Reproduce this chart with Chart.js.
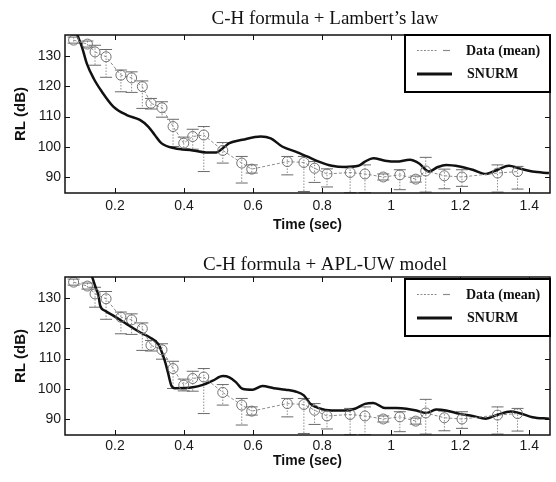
<!DOCTYPE html>
<html>
<head>
<meta charset="utf-8">
<script src="https://cdn.jsdelivr.net/npm/chart.js@4.4.0/dist/chart.umd.min.js"></script>
<style>
  body { margin: 0; background: #fff; }
  .panel { position: absolute; left: 0; width: 556px; height: 241px; }
</style>
</head>
<body>
<div class="panel" style="top:0"><canvas id="lambert" width="556" height="241"></canvas></div>
<div class="panel" style="top:241px"><canvas id="apluw" width="556" height="241"></canvas></div>
<script>
// axis ticks
const xTicks = [0.2, 0.4, 0.6, 0.8, 1, 1.2, 1.4];
const yTicks = [90, 100, 110, 120, 130];

// measured data (mean with error bars), same in both panels
const dataTime = [0.080, 0.120, 0.142, 0.174, 0.217, 0.248, 0.279, 0.304, 0.336, 0.368,
  0.399, 0.425, 0.457, 0.512, 0.567, 0.596, 0.699, 0.747, 0.778, 0.814,
  0.881, 0.924, 0.977, 1.025, 1.071, 1.100, 1.154, 1.205, 1.308, 1.366];
const dataMean = [135.3, 134.0, 131.4, 129.8, 123.7, 122.8, 119.9, 114.4, 112.9, 106.7,
  101.2, 103.4, 103.9, 98.8, 94.6, 92.6, 95.1, 94.8, 92.9, 91.0,
  91.5, 91.0, 90.0, 90.7, 89.3, 92.0, 90.4, 90.0, 91.3, 91.8];
const dataUpper = [136.3, 135.0, 133.6, 132.2, 125.4, 124.8, 121.8, 116.0, 114.9, 109.1,
  103.2, 105.8, 106.7, 101.4, 96.8, 94.0, 96.8, 96.8, 95.1, 92.7,
  93.5, 94.0, 91.0, 92.4, 90.3, 96.5, 92.6, 92.4, 94.0, 93.5];
const dataLower = [134.3, 133.0, 127.0, 123.0, 118.2, 118.0, 112.7, 112.5, 109.8, 100.1,
  99.3, 99.2, 91.8, 94.6, 88.0, 91.3, 90.7, 85.2, 88.2, 86.7,
  84.8, 84.8, 89.0, 85.8, 88.3, 85.0, 86.1, 86.9, 85.0, 86.0];

// SNURM, C-H formula + Lambert's law
const lambertTime = [0.085, 0.091, 0.104, 0.118, 0.138, 0.162, 0.195, 0.234, 0.272, 0.296,
  0.315, 0.334, 0.373, 0.425, 0.464, 0.493, 0.512, 0.531, 0.569, 0.622,
  0.651, 0.684, 0.723, 0.756, 0.790, 0.828, 0.867, 0.905, 0.924, 0.948,
  0.982, 1.015, 1.054, 1.082, 1.109, 1.135, 1.159, 1.198, 1.236, 1.274,
  1.308, 1.341, 1.370, 1.409, 1.457];
const lambertRL = [139.0, 136.9, 133.1, 127.6, 122.6, 118.2, 113.3, 110.5, 108.9, 106.7,
  103.9, 101.2, 99.5, 98.8, 98.1, 98.1, 99.5, 101.2, 102.3, 103.4,
  102.8, 100.1, 98.4, 96.8, 95.1, 93.7, 93.3, 93.7, 95.1, 96.2,
  95.4, 95.1, 95.7, 94.4, 91.8, 93.3, 94.0, 93.5, 92.4, 91.0,
  92.4, 93.7, 92.9, 91.8, 91.3];

// SNURM, C-H formula + APL-UW model
const apluwTime = [0.125, 0.133, 0.142, 0.152, 0.157, 0.171, 0.195, 0.234, 0.272, 0.301,
  0.325, 0.334, 0.344, 0.353, 0.363, 0.373, 0.425, 0.454, 0.483, 0.512,
  0.531, 0.550, 0.569, 0.598, 0.627, 0.660, 0.694, 0.723, 0.747, 0.766,
  0.790, 0.828, 0.867, 0.895, 0.924, 0.948, 0.982, 1.015, 1.044, 1.073,
  1.101, 1.130, 1.159, 1.198, 1.236, 1.274, 1.308, 1.346, 1.370, 1.409, 1.457];
const apluwRL = [139.0, 137.2, 134.1, 130.8, 127.5, 125.8, 124.2, 121.4, 118.7, 117.0,
  114.8, 112.6, 109.3, 105.5, 101.1, 100.2, 100.5, 101.3, 102.7, 104.2,
  103.8, 102.2, 100.0, 99.7, 100.9, 100.2, 99.7, 99.1, 97.8, 95.0,
  93.6, 92.8, 92.8, 93.4, 95.0, 95.3, 93.6, 93.6, 93.4, 92.8,
  92.0, 93.1, 92.8, 91.7, 91.0, 90.1, 91.4, 92.5, 92.0, 90.6, 90.1];

const sansFont = '"Liberation Sans", Arial, sans-serif';
const serifFont = '"Liberation Serif", "Times New Roman", serif';

function toPoints(xs, ys) {
  return xs.map((x, i) => ({ x: x, y: ys[i] }));
}

/* error bars from the upper/lower arrays */
const errorBars = {
  id: 'errorBars',
  beforeDatasetsDraw(chart) {
    const { ctx, scales: { x, y } } = chart;
    ctx.save();
    ctx.lineWidth = 1;
    dataTime.forEach((t, i) => {
      const px = x.getPixelForValue(t);
      const top = y.getPixelForValue(Math.min(dataUpper[i], 137));
      const bot = y.getPixelForValue(dataLower[i]);
      ctx.strokeStyle = '#8c8c8c';
      ctx.setLineDash([1.5, 1.5]);
      ctx.beginPath();
      ctx.moveTo(px, top);
      ctx.lineTo(px, bot);
      ctx.stroke();
      ctx.setLineDash([]);
      ctx.strokeStyle = '#6a6a6a';
      ctx.beginPath();
      ctx.moveTo(px - 6, top);
      ctx.lineTo(px + 6, top);
      ctx.moveTo(px - 6, bot);
      ctx.lineTo(px + 6, bot);
      ctx.stroke();
    });
    ctx.restore();
  }
};

/* box frame, inward ticks, legend box and heading */
const frame = {
  id: 'frame',
  afterDraw(chart, args, opts) {
    const { ctx, chartArea: a, scales: { x, y } } = chart;
    ctx.save();
    ctx.strokeStyle = '#111';
    ctx.lineWidth = 1;
    ctx.beginPath();
    xTicks.forEach(v => {
      const px = Math.round(x.getPixelForValue(v)) + 0.5;
      ctx.moveTo(px, a.bottom);
      ctx.lineTo(px, a.bottom - 5);
      ctx.moveTo(px, a.top);
      ctx.lineTo(px, a.top + 5);
    });
    yTicks.forEach(v => {
      const py = Math.round(y.getPixelForValue(v)) + 0.5;
      ctx.moveTo(a.left, py);
      ctx.lineTo(a.left + 5, py);
      ctx.moveTo(a.right, py);
      ctx.lineTo(a.right - 5, py);
    });
    ctx.stroke();
    ctx.lineWidth = 1.5;
    ctx.strokeRect(a.left, a.top, a.right - a.left, a.bottom - a.top);

    // legend
    const bx = a.right - 145, by = a.top + opts.legendDy;
    ctx.fillStyle = '#fff';
    ctx.fillRect(bx, by, 145, 57);
    ctx.lineWidth = 2;
    ctx.strokeStyle = '#000';
    ctx.strokeRect(bx, by, 145, 57);
    ctx.strokeStyle = '#8c8c8c';
    ctx.lineWidth = 1.2;
    ctx.setLineDash([2, 1.5]);
    ctx.beginPath();
    ctx.moveTo(bx + 12, by + 15.5);
    ctx.lineTo(bx + 33, by + 15.5);
    ctx.stroke();
    ctx.setLineDash([]);
    ctx.beginPath();
    ctx.moveTo(bx + 38, by + 15.5);
    ctx.lineTo(bx + 45, by + 15.5);
    ctx.stroke();
    ctx.strokeStyle = '#111';
    ctx.lineWidth = 3;
    ctx.beginPath();
    ctx.moveTo(bx + 12, by + 39);
    ctx.lineTo(bx + 47, by + 39);
    ctx.stroke();
    ctx.fillStyle = '#111';
    ctx.font = 'bold 14px ' + serifFont;
    ctx.textAlign = 'left';
    ctx.textBaseline = 'middle';
    ctx.fillText('Data (mean)', bx + 61, by + 16);
    ctx.fillText('SNURM', bx + 62, by + 39);

    // heading
    ctx.font = '19px ' + serifFont;
    ctx.textAlign = 'center';
    ctx.fillText(opts.title, 325, opts.titleY);
    ctx.restore();
  }
};

function makeChart(id, title, snurmTime, snurmRL, layout) {
  return new Chart(document.getElementById(id), {
    type: 'scatter',
    data: {
      datasets: [
        {
          label: 'Data (mean)',
          data: toPoints(dataTime, dataMean),
          showLine: true,
          borderColor: '#8c8c8c',
          borderWidth: 1,
          borderDash: [3, 2],
          pointRadius: 5,
          pointBorderWidth: 1,
          pointBorderColor: '#707070',
          pointBackgroundColor: 'rgba(255,255,255,0)'
        },
        {
          label: 'SNURM',
          data: toPoints(snurmTime, snurmRL),
          showLine: true,
          borderColor: '#111',
          borderWidth: 2.5,
          pointRadius: 0,
          cubicInterpolationMode: 'monotone'
        }
      ]
    },
    options: {
      responsive: false,
      animation: false,
      layout: { padding: { top: layout.top, right: 3, left: 0, bottom: 0 } },
      plugins: {
        legend: { display: false },
        tooltip: { enabled: false },
        frame: { title: title, titleY: layout.titleY, legendDy: layout.legendDy }
      },
      scales: {
        x: {
          type: 'linear',
          min: 0.055,
          max: 1.46,
          afterBuildTicks: s => { s.ticks = xTicks.map(v => ({ value: v })); },
          afterFit: s => { s.height = layout.xHeight; },
          grid: { display: false, drawTicks: false },
          border: { display: false },
          ticks: {
            padding: layout.xTickPad,
            color: '#1a1a1a',
            font: { family: sansFont, size: 14 },
            callback: v => String(v)
          },
          title: {
            display: true,
            text: 'Time (sec)',
            color: '#111',
            font: { family: sansFont, size: 14, weight: 'bold' },
            padding: { top: 0, bottom: layout.xTitlePad }
          }
        },
        y: {
          min: 84.7,
          max: 137,
          afterBuildTicks: s => { s.ticks = yTicks.map(v => ({ value: v })); },
          afterFit: s => { s.width = 65; },
          grid: { display: false, drawTicks: false },
          border: { display: false },
          ticks: { padding: 4, color: '#1a1a1a', font: { family: sansFont, size: 14 } },
          title: {
            display: true,
            text: 'RL (dB)',
            color: '#111',
            font: { family: sansFont, size: 15, weight: 'bold' },
            padding: { top: 12, bottom: 0 }
          }
        }
      }
    },
    plugins: [errorBars, frame]
  });
}

makeChart('lambert', 'C-H formula + Lambert\u2019s law', lambertTime, lambertRL,
  { top: 35, xHeight: 48, xTickPad: 5, xTitlePad: 7, titleY: 19, legendDy: 0 });
makeChart('apluw', 'C-H formula + APL-UW model', apluwTime, apluwRL,
  { top: 36, xHeight: 47, xTickPad: 3, xTitlePad: 12, titleY: 24, legendDy: 2 });
</script>
</body>
</html>
